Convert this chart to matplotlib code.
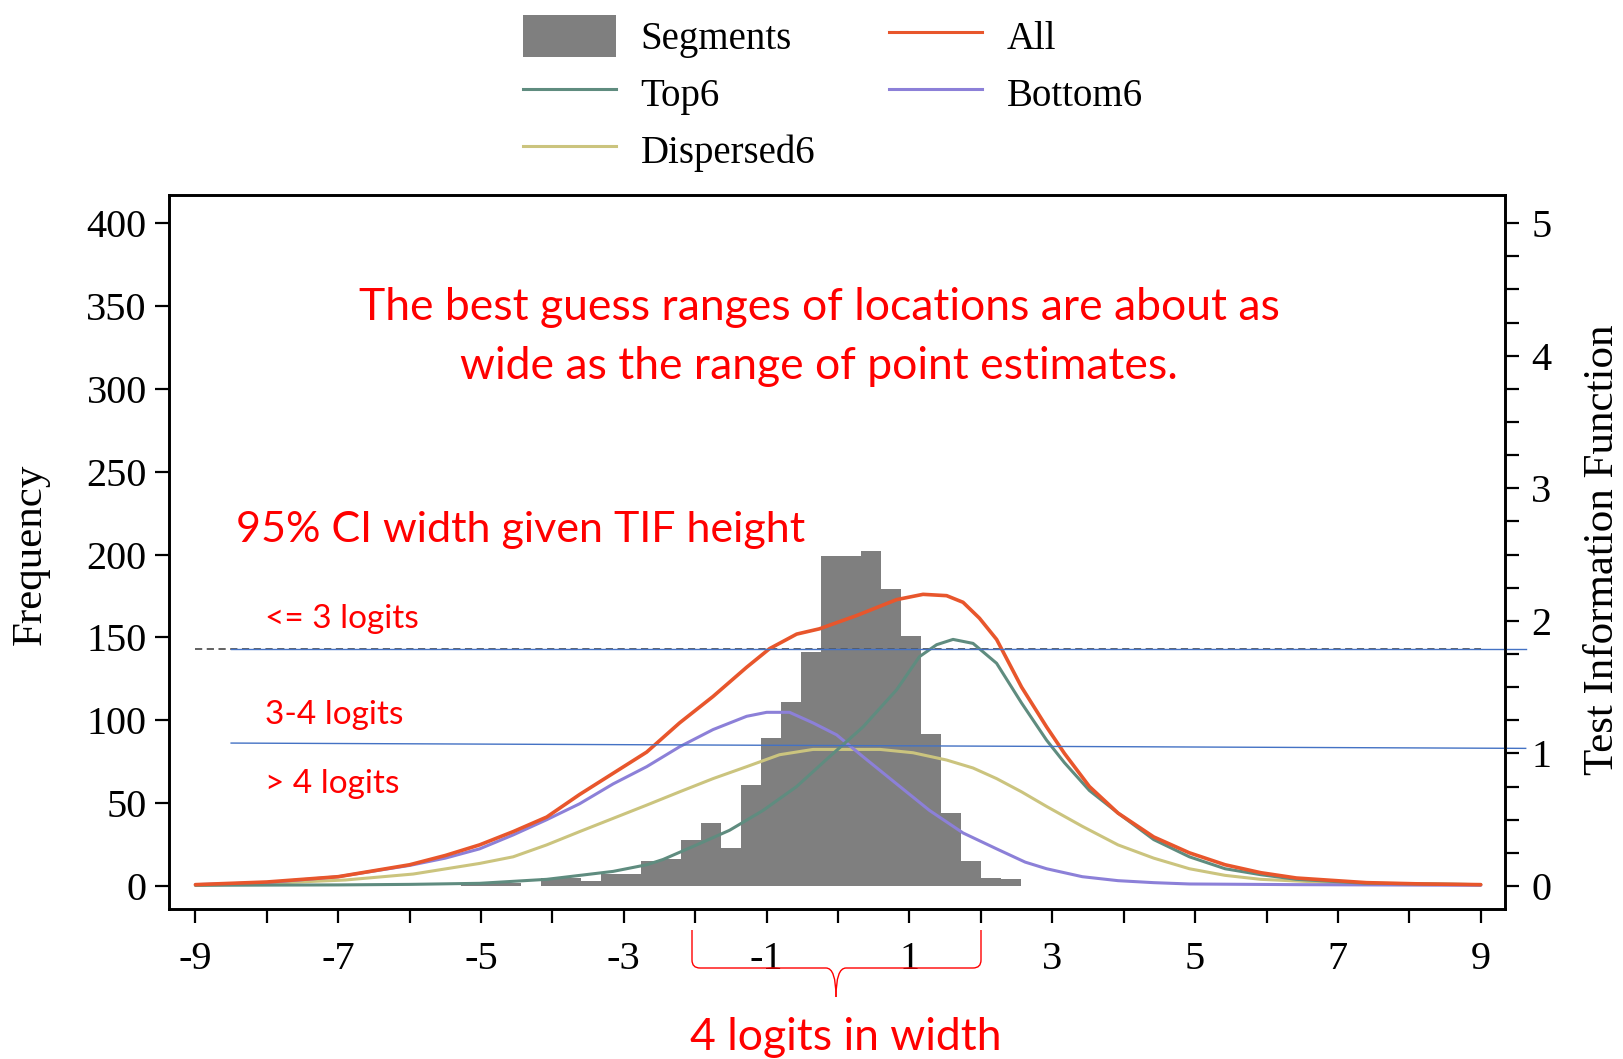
import matplotlib
matplotlib.use("Agg")
import matplotlib.pyplot as plt
import numpy as np
from matplotlib.patches import Patch, PathPatch
from matplotlib.lines import Line2D
from matplotlib.path import Path

# ---- data ----
BIN_START = -5.28
BIN_WIDTH = 0.28
SEGMENT_COUNTS = [2, 2, 2, 0, 5, 5, 3, 7, 7, 15, 16, 28, 38, 23, 61, 89, 111, 141,
                  199, 199, 202, 179, 151, 92, 44, 15, 5, 4]

ALL_X = [-9, -8, -7, -6, -5.5, -5.02, -4.55, -4.08, -3.62, -3.15, -2.68, -2.22, -1.75,
         -1.28, -0.96, -0.58, -0.26, 0.26, 0.82, 1.19, 1.52, 1.75, 1.98, 2.22, 2.57, 2.92,
         3.17, 3.52, 3.92, 4.42, 4.92, 5.42, 5.92, 6.42, 7.4, 8.2, 9]
ALL_Y = [0.01, 0.03, 0.07, 0.16, 0.23, 0.31, 0.41, 0.52, 0.69, 0.85, 1.01, 1.23, 1.43,
         1.65, 1.79, 1.90, 1.94, 2.04, 2.16, 2.20, 2.19, 2.14, 2.02, 1.86, 1.50, 1.20,
         1.00, 0.75, 0.55, 0.37, 0.25, 0.16, 0.10, 0.06, 0.025, 0.015, 0.01]

TOP6_X = [-9, -7, -6, -5.02, -4.08, -3.15, -2.68, -2.45, -1.98, -1.52, -1.05, -0.58, -0.12,
          0.35, 0.82, 1.14, 1.38, 1.61, 1.89, 2.22, 2.57, 2.92, 3.17, 3.52, 3.92, 4.42,
          4.92, 5.42, 5.92, 6.42, 7.4, 9]
TOP6_Y = [0.005, 0.008, 0.012, 0.02, 0.05, 0.11, 0.16, 0.20, 0.31, 0.42, 0.57, 0.75, 0.975,
          1.20, 1.48, 1.73, 1.82, 1.86, 1.83, 1.68, 1.38, 1.10, 0.93, 0.72, 0.55, 0.35,
          0.22, 0.13, 0.085, 0.05, 0.02, 0.01]

BOTTOM6_X = [-9, -8, -7, -6, -5.5, -5.02, -4.55, -4.08, -3.62, -3.15, -2.68, -2.22, -1.75,
             -1.28, -1.0, -0.68, -0.35, -0.02, 0.35, 0.82, 1.28, 1.75, 2.22, 2.62, 2.92,
             3.42, 3.92, 4.42, 4.92, 6.4, 9]
BOTTOM6_Y = [0.01, 0.025, 0.07, 0.155, 0.21, 0.28, 0.385, 0.50, 0.62, 0.77, 0.90, 1.05,
             1.18, 1.28, 1.31, 1.31, 1.23, 1.14, 0.975, 0.77, 0.57, 0.40, 0.28, 0.18, 0.13,
             0.07, 0.04, 0.025, 0.015, 0.01, 0.005]

DISP6_X = [-9, -8, -6.9, -5.95, -5.02, -4.55, -4.08, -3.62, -3.15, -2.68, -2.22, -1.75,
           -1.28, -0.82, -0.35, 0.12, 0.59, 1.05, 1.52, 1.89, 2.22, 2.57, 2.92, 3.42, 3.92,
           4.42, 4.92, 5.42, 5.92, 6.92, 9]
DISP6_Y = [0.005, 0.02, 0.045, 0.09, 0.17, 0.22, 0.31, 0.41, 0.51, 0.61, 0.71, 0.81, 0.90,
           0.99, 1.03, 1.03, 1.03, 1.005, 0.95, 0.89, 0.81, 0.71, 0.60, 0.45, 0.31, 0.21,
           0.13, 0.08, 0.05, 0.025, 0.01]

DASH_TIF = 1.785
CI3_LINE_X = [-8.5, 9.63]
CI3_LINE_Y = [1.79, 1.79]
CI4_LINE_X = [-8.5, 9.63]
CI4_LINE_Y = [1.078, 1.038]

X_TICKS = list(range(-9, 10))
X_LABELS = [str(v) if v % 2 else "" for v in X_TICKS]
FREQ_TICKS = [0, 50, 100, 150, 200, 250, 300, 350, 400]
TIF_TICKS = [0, 1, 2, 3, 4, 5]

W, H = 1624, 1059


def fx(px):
    return px / W


def fy(py):
    return 1 - py / H


plt.rcParams["font.family"] = "Liberation Serif"
plt.rcParams["axes.unicode_minus"] = False

fig = plt.figure(figsize=(W / 100, H / 100), dpi=100)
ax = fig.add_axes([fx(169), fy(909), (1505 - 169) / W, (909 - 195) / H])

edges = BIN_START + BIN_WIDTH * np.arange(len(SEGMENT_COUNTS) + 1)
ax.stairs(SEGMENT_COUNTS, edges, fill=True, color="#7f7f7f", linewidth=0)
ax.set_xlim(-9.37, 9.34)
ax.set_ylim(-13.9, 417)
ax.set_xticks(X_TICKS)
ax.set_xticklabels(X_LABELS)
ax.set_yticks(FREQ_TICKS)

ax2 = ax.twinx()
ax2.set_ylim(-13.9 / 80, 417 / 80)
ax2.set_yticks(TIF_TICKS)
ax2.set_yticks(np.arange(0, 5.01, 0.25), minor=True)

line_kw = dict(solid_joinstyle="round", solid_capstyle="round")
ax2.plot([-9, 9], [DASH_TIF, DASH_TIF], color="#555555", lw=1.3, ls=(0, (4, 2.5)))
ax2.plot(DISP6_X, DISP6_Y, color="#cbc47e", lw=2.2, **line_kw)
ax2.plot(BOTTOM6_X, BOTTOM6_Y, color="#8c80d8", lw=2.2, **line_kw)
ax2.plot(TOP6_X, TOP6_Y, color="#5f8c7f", lw=2.2, **line_kw)
ax2.plot(ALL_X, ALL_Y, color="#e8562c", lw=2.6, **line_kw)
ax2.plot(CI3_LINE_X, CI3_LINE_Y, color="#4472c4", lw=1.0, clip_on=False)
ax2.plot(CI4_LINE_X, CI4_LINE_Y, color="#4472c4", lw=1.0, clip_on=False)

for a in (ax, ax2):
    for s in a.spines.values():
        s.set_linewidth(1.9)
    a.tick_params(which="both", direction="out", length=10, width=1.6,
                  labelsize=29, pad=6)
ax.tick_params(axis="x", pad=13)
ax2.tick_params(axis="y", pad=9)

fig.text(fx(31), fy(554), "Frequency", rotation=90, ha="center", va="center", fontsize=31)
fig.text(fx(1603), fy(550), "Test Information Function", rotation=90,
         ha="center", va="center", fontsize=31)

handles = [Patch(facecolor="#7f7f7f"),
           Line2D([], [], color="#5f8c7f", lw=2.2),
           Line2D([], [], color="#cbc47e", lw=2.2),
           Line2D([], [], color="#e8562c", lw=2.2),
           Line2D([], [], color="#8c80d8", lw=2.2)]
labels = ["Segments", "Top6", "Dispersed6", "All", "Bottom6"]
fig.legend(handles, labels, loc="upper left", bbox_to_anchor=(fx(523), fy(15)),
           ncol=2, frameon=False, fontsize=28, handlelength=2.4, handleheight=1.3,
           handletextpad=0.62, labelspacing=0.35, columnspacing=1.9,
           borderpad=0, borderaxespad=0)

red = "#ff0000"
sans = "Lato"
fig.text(fx(819), fy(337), "The best guess ranges of locations are about as\n"
         "wide as the range of point estimates.", ha="center", va="center",
         color=red, fontsize=32, family=sans, linespacing=1.52)
fig.text(fx(236), fy(530), "95% CI width given TIF height", ha="left", va="center",
         color=red, fontsize=31, family=sans)
fig.text(fx(265), fy(619), "<= 3 logits", ha="left", va="center", color=red,
         fontsize=24, family=sans)
fig.text(fx(265), fy(715), "3-4 logits", ha="left", va="center", color=red,
         fontsize=24, family=sans)
fig.text(fx(265), fy(784), "> 4 logits", ha="left", va="center", color=red,
         fontsize=24, family=sans)
fig.text(fx(846), fy(1038), "4 logits in width", ha="center", va="center", color=red,
         fontsize=32, family=sans)

# curly brace under the x axis, drawn in figure pixels
bx0, bx1, bxm = 692, 981, 836
by0, by1, byt = 930, 968, 997
for side, inner in ((bx0, 1), (bx1, -1)):
    verts = [(side, by0), (side, by1 - 8), (side, by1), (side + 8 * inner, by1),
             (bxm - 10 * inner, by1), (bxm, by1), (bxm, byt)]
    codes = [Path.MOVETO, Path.LINETO, Path.CURVE3, Path.CURVE3,
             Path.LINETO, Path.CURVE3, Path.CURVE3]
    verts = [(fx(vx), fy(vy)) for vx, vy in verts]
    fig.patches.append(PathPatch(Path(verts, codes), fill=False, edgecolor=red,
                                 lw=1.0, transform=fig.transFigure))

fig.savefig("out.png", dpi=100)
